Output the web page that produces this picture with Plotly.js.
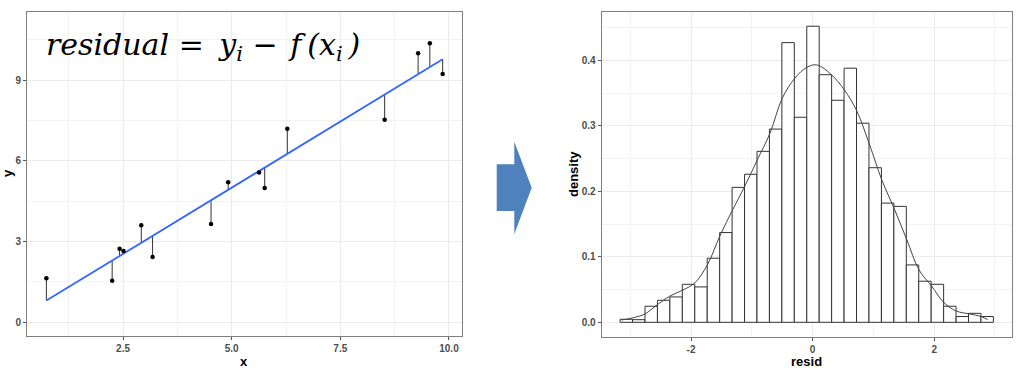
<!DOCTYPE html>
<html>
<head>
<meta charset="utf-8">
<script src="https://cdn.plot.ly/plotly-3.0.1.min.js"></script>
<style>html,body{margin:0;padding:0;background:#fff;}#chart{width:1020px;height:368px;}</style>
</head>
<body>
<div id="chart"></div>
<script>
// ---- Left panel data: observed points ----
const pointX = [0.736, 2.25, 2.42, 2.51, 2.92, 3.18, 4.525, 4.92, 5.63, 5.76, 6.28, 8.52, 9.29, 9.56, 9.855];
const pointY = [1.63, 1.54, 2.73, 2.64, 3.60, 2.42, 3.65, 5.20, 5.57, 4.99, 7.19, 7.53, 10.0, 10.38, 9.23];
const leftXTicks = [2.5, 5.0, 7.5, 10.0];
const leftYTicks = [0, 3, 6, 9];

// ---- Right panel data: histogram of residuals (30 bins) ----
const binStart = -3.167;
const binWidth = 0.2047;
const histDensity = [0.0046, 0.0040, 0.0245, 0.0336, 0.0387, 0.058, 0.054, 0.0978, 0.137, 0.206,
                     0.226, 0.261, 0.295, 0.427, 0.313, 0.452, 0.378, 0.339, 0.388, 0.304,
                     0.236, 0.182, 0.177, 0.0876, 0.0627, 0.058, 0.0245, 0.0088, 0.0137, 0.0088];
// density curve
const kdeX = [-3.14, -2.95, -2.76, -2.56, -2.35, -2.14, -1.94, -1.73, -1.53, -1.32, -1.12, -0.91, -0.70, -0.50, -0.29, -0.10,
              0.066, 0.31, 0.52, 0.72, 0.93, 1.14, 1.34, 1.55, 1.75, 1.96, 2.16, 2.37, 2.57, 2.78, 2.88];
const kdeY = [0.0035, 0.007, 0.0127, 0.0264, 0.040, 0.049, 0.060, 0.088, 0.131, 0.171, 0.207, 0.248, 0.289, 0.342, 0.373, 0.389,
              0.393, 0.378, 0.355, 0.324, 0.273, 0.217, 0.174, 0.126, 0.080, 0.055, 0.030, 0.017, 0.0130, 0.0086, 0.004];
const rightXTicks = [-2, 0, 2];
const rightYTicks = [0.0, 0.1, 0.2, 0.3, 0.4];

// ---- least squares fit (as in lm) ----
const n = pointX.length;
const mx = pointX.reduce((a, b) => a + b, 0) / n;
const my = pointY.reduce((a, b) => a + b, 0) / n;
let sxy = 0, sxx = 0;
for (let i = 0; i < n; i++) { sxy += (pointX[i] - mx) * (pointY[i] - my); sxx += (pointX[i] - mx) ** 2; }
const slope = sxy / sxx, intercept = my - slope * mx;
const fitted = pointX.map(x => intercept + slope * x);
const xMin = Math.min(...pointX), xMax = Math.max(...pointX);

const segX = [], segY = [];
for (let i = 0; i < n; i++) { segX.push(pointX[i], pointX[i], null); segY.push(pointY[i], fitted[i], null); }

const binCenters = histDensity.map((_, i) => binStart + (i + 0.5) * binWidth);

const W = 1020, H = 368;
const px = x => x / W, py = y => 1 - y / H;

const tickFont = {family: 'Liberation Sans, Arial, sans-serif', size: 10, color: '#4d4d4d', weight: 'bold'};
const titleFont = {family: 'Liberation Sans, Arial, sans-serif', size: 13, color: '#000', weight: 'bold'};

const axisCommon = {
  showline: true, mirror: true, linecolor: '#7f7f7f', linewidth: 1,
  ticks: 'outside', ticklen: 3, tickcolor: '#555', tickwidth: 1,
  showgrid: true, gridcolor: '#ebebeb', gridwidth: 1, zeroline: false,
  tickfont: tickFont, fixedrange: true
};

const traces = [
  {x: segX, y: segY, mode: 'lines', line: {color: '#333', width: 1}, xaxis: 'x', yaxis: 'y', hoverinfo: 'skip'},
  {x: [xMin, xMax], y: [intercept + slope * xMin, intercept + slope * xMax], mode: 'lines',
   line: {color: '#3366ff', width: 1.8}, xaxis: 'x', yaxis: 'y'},
  {x: pointX, y: pointY, mode: 'markers', marker: {color: '#000', size: 4.5}, xaxis: 'x', yaxis: 'y'},
  {type: 'bar', x: binCenters, y: histDensity, width: binWidth,
   marker: {color: '#fff', line: {color: '#333', width: 1}}, xaxis: 'x2', yaxis: 'y2'},
  {x: kdeX, y: kdeY, mode: 'lines', line: {color: '#444', width: 1, shape: 'spline', smoothing: 1}, xaxis: 'x2', yaxis: 'y2'}
];

const formula = 'residual = \u2009y<sub>i</sub> \u2212 \u200af\u2009(x<sub>i</sub>\u2009)';

const layout = {
  width: W, height: H, margin: {l: 0, r: 0, t: 0, b: 0},
  paper_bgcolor: '#fff', plot_bgcolor: '#fff', showlegend: false, bargap: 0,
  xaxis: Object.assign({}, axisCommon, {domain: [px(27), px(462)], range: [0.29, 10.30], anchor: 'y',
    tickvals: leftXTicks, ticktext: leftXTicks.map(v => v.toFixed(1)),
    minor: {dtick: 2.5, tick0: 1.25, showgrid: true, gridcolor: '#f3f3f3', gridwidth: 1}}),
  yaxis: Object.assign({}, axisCommon, {domain: [py(336), py(12)], range: [-0.52, 11.54], anchor: 'x',
    tickvals: leftYTicks, ticktext: leftYTicks.map(v => String(v)),
    minor: {dtick: 3, tick0: 1.5, showgrid: true, gridcolor: '#f3f3f3', gridwidth: 1}}),
  xaxis2: Object.assign({}, axisCommon, {domain: [px(601.7), px(1012.3)], range: [-3.47, 3.285], anchor: 'y2',
    tickvals: rightXTicks, ticktext: rightXTicks.map(v => String(v)),
    minor: {dtick: 2, tick0: -3, showgrid: true, gridcolor: '#f3f3f3', gridwidth: 1}}),
  yaxis2: Object.assign({}, axisCommon, {domain: [py(337.3), py(11.7)], range: [-0.0229, 0.4742], anchor: 'x2',
    tickvals: rightYTicks, ticktext: rightYTicks.map(v => v.toFixed(1)),
    minor: {dtick: 0.1, tick0: 0.05, showgrid: true, gridcolor: '#f3f3f3', gridwidth: 1}}),
  annotations: [
    {text: 'y', xref: 'paper', yref: 'paper', x: px(8), y: py(173), textangle: -90, showarrow: false, font: titleFont, xanchor: 'center', yanchor: 'middle'},
    {text: 'x', xref: 'paper', yref: 'paper', x: px(243.5), y: py(361), showarrow: false, font: titleFont, xanchor: 'center', yanchor: 'middle'},
    {text: 'density', xref: 'paper', yref: 'paper', x: px(573), y: py(174), textangle: -90, showarrow: false, font: titleFont, xanchor: 'center', yanchor: 'middle'},
    {text: 'resid', xref: 'paper', yref: 'paper', x: px(806), y: py(361), showarrow: false, font: titleFont, xanchor: 'center', yanchor: 'middle'},
    {text: formula, xref: 'paper', yref: 'paper', x: px(44), y: py(46),
     showarrow: false, xanchor: 'left', yanchor: 'middle',
     font: {family: 'DejaVu Serif, serif', size: 30, style: 'italic', color: '#000'}}
  ],
  shapes: [
    {type: 'path', xref: 'paper', yref: 'paper', fillcolor: '#4f81bd', line: {width: 0},
     path: 'M' + px(496.7) + ',' + py(164.3) + ' L' + px(514.3) + ',' + py(164.3) + ' L' + px(514.3) + ',' + py(141.7) +
           ' L' + px(531.7) + ',' + py(187.7) + ' L' + px(514.3) + ',' + py(234) + ' L' + px(514.3) + ',' + py(211) +
           ' L' + px(496.7) + ',' + py(211) + ' Z'}
  ]
};

Plotly.newPlot('chart', traces, layout, {staticPlot: true, displayModeBar: false});
</script>
</body>
</html>
